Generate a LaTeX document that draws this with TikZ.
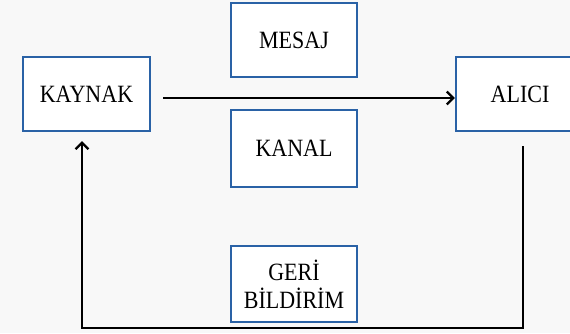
\documentclass[tikz,border=0pt]{standalone}
\usepackage{fontspec}
\setmainfont{Liberation Serif}
\usetikzlibrary{arrows.meta}
\definecolor{boxblue}{HTML}{2A62A6}
\definecolor{bgc}{HTML}{F8F8F8}
\newcommand{\tallt}[1]{\scalebox{1}[1.13]{#1}}
\begin{document}
\begin{tikzpicture}[x=1pt,y=-1pt,
  box/.style={draw=boxblue,line width=2.2pt,fill=white,rectangle,inner sep=0pt,
    font=\fontsize{22}{28}\selectfont,align=center,text=black},
  arr/.style={line width=2.8pt,draw=black,line join=miter,
    -{Straight Barb[length=6.5pt,width=13pt,line width=2.3pt]}}]
\clip (0,0) rectangle (570,333);
\fill[bgc] (0,0) rectangle (570,333);
\node[box,minimum width=127pt,minimum height=74pt] (kaynak) at (86.5,94) {\tallt{KAYNAK}};
\node[box,minimum width=126pt,minimum height=74pt] (mesaj) at (294,40) {\tallt{MESAJ}};
\node[box,minimum width=126pt,minimum height=77pt] (kanal) at (294,148.5) {\tallt{KANAL}};
\node[box,minimum width=128pt,minimum height=74pt] (alici) at (520,94) {\tallt{ALICI}};
\node[box,minimum width=126pt,minimum height=76pt] (geri) at (294,284) {\tallt{GERİ}\\\tallt{BİLDİRİM}};
\draw[arr,shorten <=12pt] ([yshift=-4pt]kaynak.east) -- ([yshift=-4pt]alici.west);
\coordinate (fbs) at (523,146);
\coordinate (fbr) at (523,328);
\coordinate (fbl) at (82,328);
\coordinate (fbe) at (82,141);
\draw[arr] (fbs) -- (fbr) -- (fbl) -- (fbe);
\end{tikzpicture}
\end{document}
